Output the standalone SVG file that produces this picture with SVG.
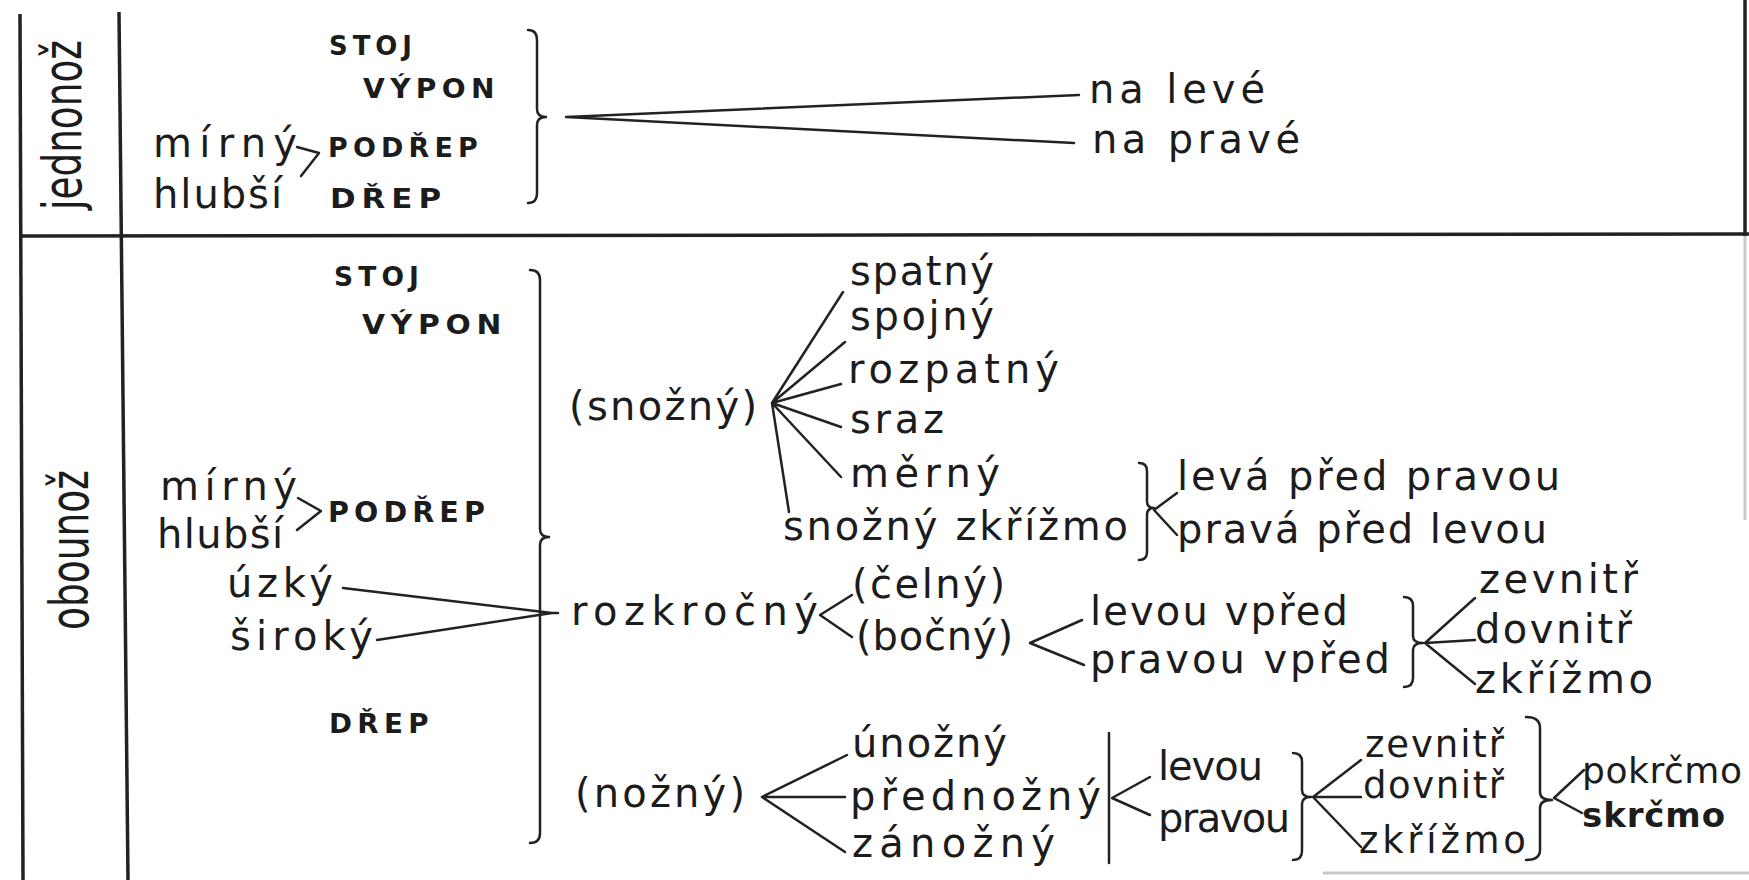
<svg xmlns="http://www.w3.org/2000/svg" width="1749" height="880" viewBox="0 0 1749 880">
<style>
.t{font-family:"DejaVu Sans","Liberation Sans",sans-serif;font-size:40px;fill:#1c1c1c}
.s{font-size:37px}
.c{font-family:"DejaVu Sans","Liberation Sans",sans-serif;font-weight:bold;font-size:26px;letter-spacing:5px;fill:#1c1c1c}
.r{font-family:"DejaVu Sans","Liberation Sans",sans-serif;font-size:54px;fill:#1c1c1c}
.ln{stroke:#222;stroke-width:2.5;fill:none;stroke-linecap:round;stroke-linejoin:round}
.fr{stroke:#222;stroke-width:3.5;fill:none}
.faint{stroke:#c8c8c8;stroke-width:3;fill:none}
</style>
<rect width="1749" height="880" fill="#fff"/>
<g id="frame">
<path class="fr" d="M20,14 L23,880"/>
<path class="fr" d="M119,12 L128,880"/>
<path class="fr" d="M20,236 L1749,234"/>
<path class="fr" d="M1745,0 L1745,236"/>
<path class="faint" d="M1745,236 L1745,520"/>
<path class="faint" d="M1323,873 L1749,873"/>
</g>
<g id="labels">
<text class="r" transform="translate(81,210) rotate(-90)" textLength="170" lengthAdjust="spacingAndGlyphs">jednonož</text>
<text class="r" transform="translate(88,630) rotate(-90)" textLength="160" lengthAdjust="spacingAndGlyphs">obounož</text>
</g>
<g id="top-left">
<text class="c" x="329" y="55" textLength="88" lengthAdjust="spacingAndGlyphs">STOJ</text>
<text class="c" x="363" y="98" textLength="137" lengthAdjust="spacingAndGlyphs">VÝPON</text>
<text class="t" x="153" y="157" textLength="144">mírný</text>
<text class="c" x="328" y="157" textLength="155" lengthAdjust="spacingAndGlyphs">PODŘEP</text>
<text class="t" x="153" y="208" textLength="129">hlubší</text>
<text class="c" x="330" y="208" textLength="117" lengthAdjust="spacingAndGlyphs">DŘEP</text>
</g>
<g id="top-right">
<text class="t" x="1089" y="103" textLength="176">na levé</text>
<text class="t" x="1092" y="153" textLength="208">na pravé</text>
</g>
<g id="bottom-left">
<text class="c" x="334" y="286" textLength="90" lengthAdjust="spacingAndGlyphs">STOJ</text>
<text class="c" x="362" y="334" textLength="145" lengthAdjust="spacingAndGlyphs">VÝPON</text>
<text class="t" x="160" y="500" textLength="137">mírný</text>
<text class="t" x="157" y="548" textLength="126">hlubší</text>
<text class="c" x="328" y="522" textLength="162" lengthAdjust="spacingAndGlyphs" style="font-size:28px">PODŘEP</text>
<text class="t" x="227" y="597" textLength="106">úzký</text>
<text class="t" x="230" y="650" textLength="143">široký</text>
<text class="c" x="329" y="733" textLength="105" lengthAdjust="spacingAndGlyphs">DŘEP</text>
</g>
<g id="snozny">
<text class="t" x="569" y="420" textLength="188">(snožný)</text>
<text class="t" x="850" y="285" textLength="144">spatný</text>
<text class="t" x="850" y="330" textLength="144">spojný</text>
<text class="t" x="848" y="383" textLength="211">rozpatný</text>
<text class="t" x="850" y="433" textLength="94">sraz</text>
<text class="t" x="850" y="487" textLength="150">měrný</text>
<text class="t" x="783" y="540" textLength="345">snožný zkřížmo</text>
<text class="t" x="1177" y="490" textLength="383">levá před pravou</text>
<text class="t" x="1177" y="543" textLength="370">pravá před levou</text>
</g>
<g id="rozkrocny">
<text class="t" x="571" y="625" textLength="247">rozkročný</text>
<text class="t" x="852" y="598" textLength="153">(čelný)</text>
<text class="t" x="856" y="650" textLength="157">(bočný)</text>
<text class="t" x="1090" y="625" textLength="258">levou vpřed</text>
<text class="t" x="1090" y="673" textLength="300">pravou vpřed</text>
<text class="t" x="1479" y="593" textLength="159">zevnitř</text>
<text class="t" x="1475" y="643" textLength="157">dovnitř</text>
<text class="t" x="1475" y="693" textLength="178">zkřížmo</text>
</g>
<g id="nozny">
<text class="t" x="575" y="807" textLength="170">(nožný)</text>
<text class="t" x="852" y="757" textLength="155">únožný</text>
<text class="t" x="850" y="810" textLength="251">přednožný</text>
<text class="t" x="852" y="857" textLength="203">zánožný</text>
<text class="t" x="1158" y="780" textLength="105">levou</text>
<text class="t" x="1158" y="832" textLength="132">pravou</text>
<text class="t s" x="1365" y="757" textLength="139">zevnitř</text>
<text class="t s" x="1363" y="798" textLength="141">dovnitř</text>
<text class="t s" x="1359" y="853" textLength="167">zkřížmo</text>
<text class="t" x="1582" y="783" textLength="160" style="font-size:36px">pokrčmo</text>
<text class="t" x="1582" y="827" textLength="143" style="font-size:34px;font-weight:bold">skrčmo</text>
</g>
<g id="connectors">
<path class="ln" d="M297,147 L319,153 L301,176"/>
<path class="ln" d="M298,498 L321,511 L297,530"/>
<path class="ln" d="M528,30 Q537,30 537,40 L537,109 Q537,117 546,117 Q537,117 537,125 L537,193 Q537,203 528,203"/>
<path class="ln" d="M566,117 L1079,95 M566,117 L1074,143"/>
<path class="ln" d="M530,270 Q540,270 540,280 L540,529 Q540,537 549,537 Q540,537 540,545 L540,833 Q540,843 530,843"/>
<path class="ln" d="M343,588 L552,613 L377,640 M552,613 L558,613"/>
<path class="ln" d="M772,403 L843,292 M772,403 L845,342 M772,403 L841,384 M772,403 L841,427 M772,403 L841,477 M772,403 L789,512"/>
<path class="ln" d="M1139,463 Q1147,463 1147,471 L1147,501 Q1147,508 1154,508 Q1147,508 1147,515 L1147,552 Q1147,560 1139,560"/>
<path class="ln" d="M1177,493 L1154,510 L1177,535"/>
<path class="ln" d="M852,595 L820,615 L852,637"/>
<path class="ln" d="M1082,620 L1030,643 L1084,665"/>
<path class="ln" d="M1404,597 Q1413,597 1413,606 L1413,636 Q1413,643 1423,643 Q1413,643 1413,650 L1413,678 Q1413,687 1404,687"/>
<path class="ln" d="M1425,643 L1475,598 M1425,643 L1475,640 M1425,643 L1475,684"/>
<path class="ln" d="M762,797 L847,755 M762,797 L845,797 M762,797 L845,852"/>
<path class="ln" d="M1109,733 L1109,863"/>
<path class="ln" d="M1150,777 L1112,798 L1150,815"/>
<path class="ln" d="M1293,753 Q1302,753 1302,762 L1302,790 Q1302,797 1311,797 Q1302,797 1302,804 L1302,851 Q1302,860 1293,860"/>
<path class="ln" d="M1313,797 L1361,760 M1313,797 L1361,797 M1313,797 L1361,847"/>
<path class="ln" d="M1526,717 Q1540,717 1540,728 L1540,792 Q1540,800 1552,800 Q1540,800 1540,808 L1540,850 Q1540,860 1526,860"/>
<path class="ln" d="M1584,770 L1554,798 L1582,813"/>
</g>
</svg>
